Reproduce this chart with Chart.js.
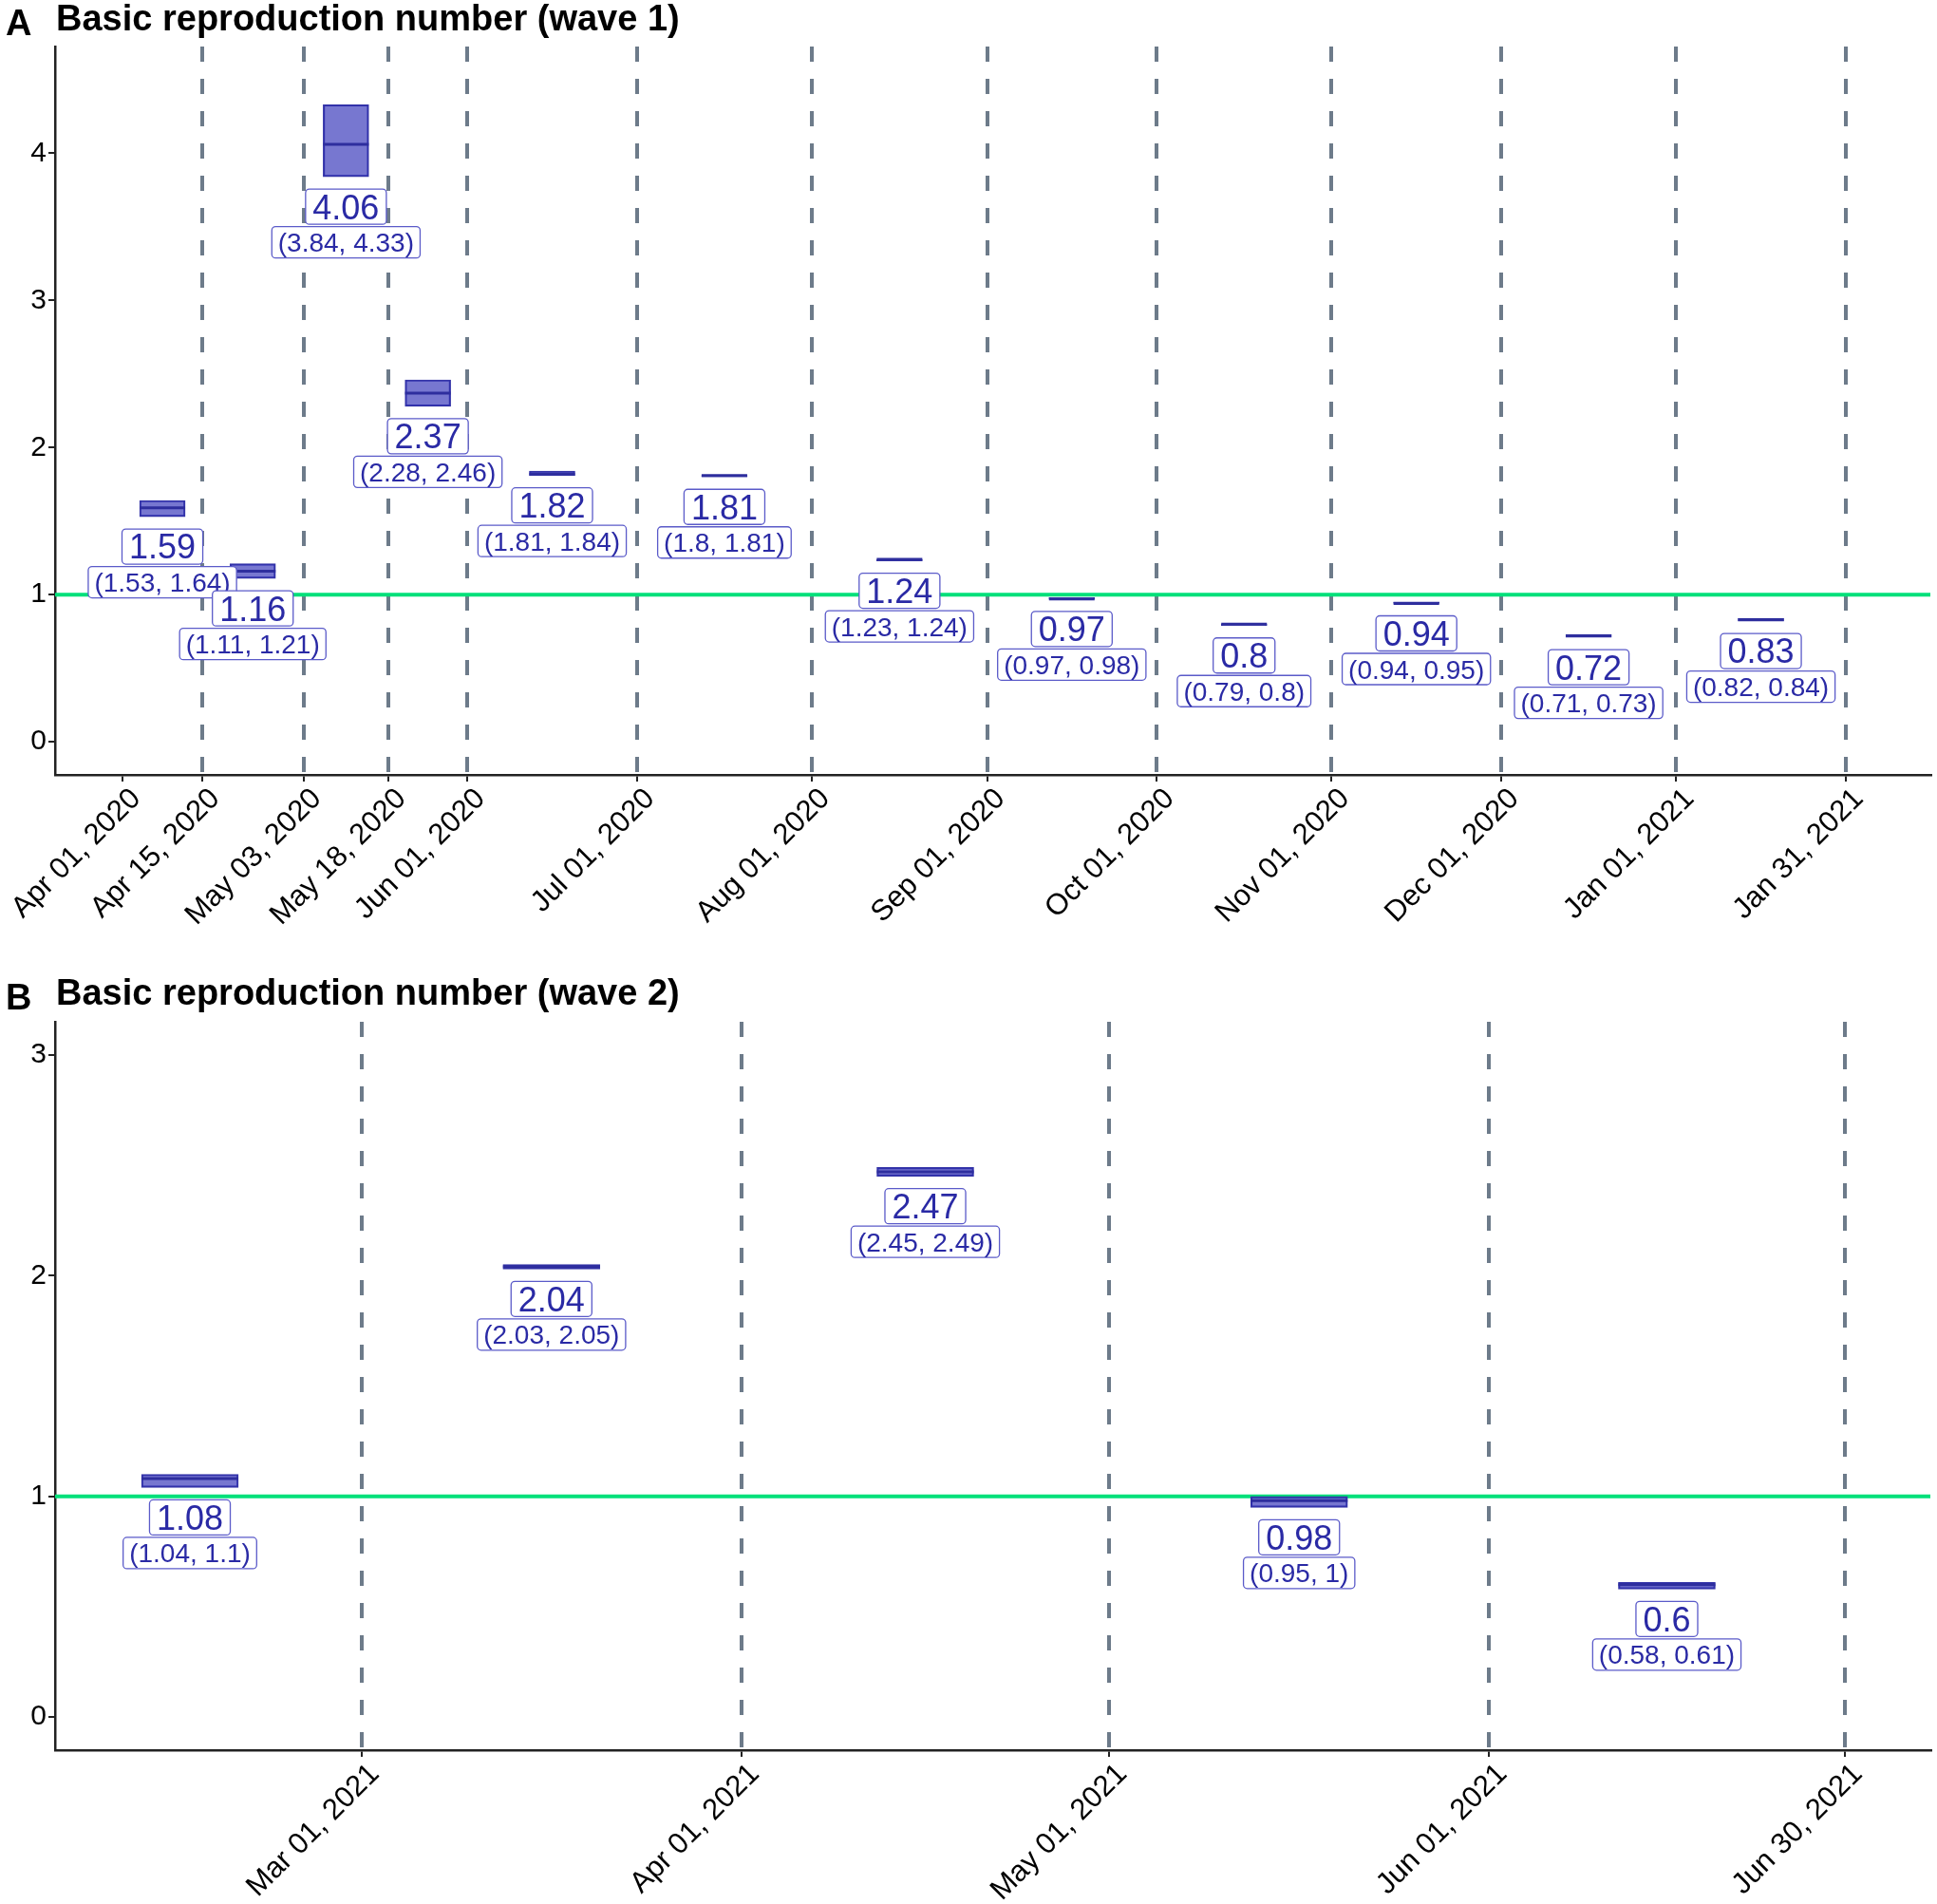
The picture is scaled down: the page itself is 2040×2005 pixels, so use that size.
<!DOCTYPE html>
<html>
<head>
<meta charset="utf-8">
<script src="https://cdn.jsdelivr.net/npm/chart.js@4.4.0/dist/chart.umd.min.js"></script>
<style>
  body { margin: 0; background: #fff; width: 2040px; height: 2005px; position: relative; overflow: hidden;
         font-family: "Liberation Sans", Arial, sans-serif; }
  .panel { position: absolute; left: 0; width: 2040px; height: 978px; }
  .txt { position: absolute; font-weight: bold; font-size: 38px; line-height: 1; color: #000; white-space: nowrap; }
</style>
</head>
<body>
<div class="panel" style="top:0"><canvas id="wave1" width="2040" height="978"></canvas></div>
<div class="panel" style="top:1027px"><canvas id="wave2" width="2040" height="978"></canvas></div>
<div class="txt" style="left:6px;top:5px">A</div>
<div class="txt" style="left:59px;top:0px">Basic reproduction number (wave 1)</div>
<div class="txt" style="left:6px;top:1031px">B</div>
<div class="txt" style="left:59px;top:1026px">Basic reproduction number (wave 2)</div>
<script>
// wave 1: period boundaries, estimates (median) and intervals
const W1_BREAKS = ["2020-04-01", "2020-04-15", "2020-05-03", "2020-05-18", "2020-06-01", "2020-07-01",
  "2020-08-01", "2020-09-01", "2020-10-01", "2020-11-01", "2020-12-01", "2021-01-01", "2021-01-31"];
const W1_MEDIAN = [1.59, 1.16, 4.06, 2.37, 1.82, 1.81, 1.24, 0.97, 0.8, 0.94, 0.72, 0.83];
const W1_LOW = [1.53, 1.11, 3.84, 2.28, 1.81, 1.8, 1.23, 0.97, 0.79, 0.94, 0.71, 0.82];
const W1_HIGH = [1.64, 1.21, 4.33, 2.46, 1.84, 1.81, 1.24, 0.98, 0.8, 0.95, 0.73, 0.84];
const W1_TICKS = W1_BREAKS;
const W1_VLINES = W1_BREAKS.slice(1);
const W1_XRANGE = ["2020-03-20", "2021-02-15"];
const W1_YRANGE = [-0.225, 4.725];
const W1_YTICKS = [0, 1, 2, 3, 4];

// wave 2
const W2_BREAKS = ["2021-02-01", "2021-03-01", "2021-04-01", "2021-05-01", "2021-06-01", "2021-06-30"];
const W2_MEDIAN = [1.08, 2.04, 2.47, 0.98, 0.6];
const W2_LOW = [1.04, 2.03, 2.45, 0.95, 0.58];
const W2_HIGH = [1.1, 2.05, 2.49, 1, 0.61];
const W2_TICKS = W2_BREAKS.slice(1);
const W2_VLINES = W2_TICKS;
const W2_XRANGE = ["2021-02-04", "2021-07-07"];
const W2_YRANGE = [-0.15, 3.15];
const W2_YTICKS = [0, 1, 2, 3];

const THRESHOLD = 1;

const MONTHS = ["Jan", "Feb", "Mar", "Apr", "May", "Jun", "Jul", "Aug", "Sep", "Oct", "Nov", "Dec"];
const day = s => Date.UTC(+s.slice(0, 4), +s.slice(5, 7) - 1, +s.slice(8, 10)) / 86400000;
const fmtDate = v => {
  const d = new Date(v * 86400000);
  return MONTHS[d.getUTCMonth()] + " " + String(d.getUTCDate()).padStart(2, "0") + ", " + d.getUTCFullYear();
};

const FONT = "'Liberation Sans', Arial, sans-serif";

function tag(ctx, cx, top, text, size, h, padX) {
  ctx.font = size + "px " + FONT;
  const w = ctx.measureText(text).width + 2 * padX;
  ctx.beginPath();
  ctx.roundRect(cx - w / 2, top, w, h, 4);
  ctx.fillStyle = "#fff";
  ctx.fill();
  ctx.lineWidth = 1.3;
  ctx.strokeStyle = "#5b5bc9";
  ctx.stroke();
  ctx.fillStyle = "#2a2aa5";
  ctx.textAlign = "center";
  ctx.textBaseline = "alphabetic";
  ctx.fillText(text, cx, top + h / 2 + size * 0.358);
  return top + h;
}

const boxLabels = {
  id: "boxLabels",
  afterDatasetsDraw(chart, args, opts) {
    const { ctx, scales: { x, y } } = chart;
    ctx.save();
    opts.centers.forEach((c, i) => {
      const cx = x.getPixelForValue(c);
      let top = y.getPixelForValue(opts.low[i]) + 13;
      top = tag(ctx, cx, top, String(opts.median[i]), 36, 37, 7.5) + 2.5;
      tag(ctx, cx, top, "(" + opts.low[i] + ", " + opts.high[i] + ")", 28, 33, 6.5);
    });
    ctx.restore();
  },
};

function makeChart(id, breaks, median, low, high, ticks, vlines, xrange, yrange, yticks, boxPx) {
  const centers = median.map((_, i) => (day(breaks[i]) + day(breaks[i + 1])) / 2);
  const vlineDays = vlines.map(day);
  const xmin = day(xrange[0]);
  const xmax = day(xrange[1]);

  return new Chart(document.getElementById(id), {
    type: "bar",
    plugins: [boxLabels],
    data: {
      datasets: [
        {
          type: "line",
          order: 3,
          data: [{ x: xmin, y: THRESHOLD }, { x: xmax, y: THRESHOLD }],
          borderColor: "#00e07a",
          borderWidth: 4,
          pointRadius: 0,
        },
        {
          type: "bar",
          order: 2,
          data: centers.map((c, i) => ({ x: c, y: [low[i], high[i]] })),
          backgroundColor: "rgba(40, 40, 180, 0.63)",
          borderColor: "#3535a8",
          borderWidth: 1.5,
          borderSkipped: false,
          barThickness: boxPx,
        },
        {
          type: "scatter",
          order: 1,
          data: centers.map((c, i) => ({ x: c, y: median[i] })),
          pointStyle: "line",
          pointRadius: boxPx / 2,
          pointBorderWidth: 3,
          pointBorderColor: "#2e2e9e",
        },
      ],
    },
    options: {
      responsive: false,
      animation: false,
      devicePixelRatio: 1,
      layout: { autoPadding: false, padding: { top: 49, right: 7, left: 0, bottom: 0 } },
      plugins: {
        legend: { display: false },
        tooltip: { enabled: false },
        boxLabels: { centers, median, low, high },
      },
      scales: {
        x: {
          type: "linear",
          min: xmin,
          max: xmax,
          offset: false,
          afterBuildTicks: s => { s.ticks = ticks.map(t => ({ value: day(t) })); },
          afterFit: s => { s.height = 162; s.paddingLeft = 0; s.paddingRight = 0; },
          ticks: {
            autoSkip: false,
            minRotation: 45,
            maxRotation: 45,
            padding: 0,
            labelOffset: 14,
            color: "#000",
            font: { family: FONT, size: 31 },
            callback: v => fmtDate(v),
          },
          grid: {
            offset: false,
            color: c => (c.tick && vlineDays.includes(c.tick.value) ? "#6d7b8a" : "rgba(0,0,0,0)"),
            lineWidth: 4,
            tickColor: "#222",
            tickWidth: 2,
            tickLength: 7,
          },
          border: { display: true, color: "#222", width: 2.5, dash: [16, 18] },
        },
        y: {
          min: yrange[0],
          max: yrange[1],
          afterBuildTicks: s => { s.ticks = yticks.map(v => ({ value: v })); },
          afterFit: s => { s.width = 58; },
          ticks: { padding: 2, color: "#000", font: { family: FONT, size: 30 } },
          grid: { drawOnChartArea: false, color: "#222", lineWidth: 2, tickLength: 7 },
          border: { display: true, color: "#222", width: 2.5 },
        },
      },
    },
  });
}

makeChart("wave1", W1_BREAKS, W1_MEDIAN, W1_LOW, W1_HIGH, W1_TICKS, W1_VLINES, W1_XRANGE, W1_YRANGE, W1_YTICKS, 48);
makeChart("wave2", W2_BREAKS, W2_MEDIAN, W2_LOW, W2_HIGH, W2_TICKS, W2_VLINES, W2_XRANGE, W2_YRANGE, W2_YTICKS, 102);
</script>
</body>
</html>
